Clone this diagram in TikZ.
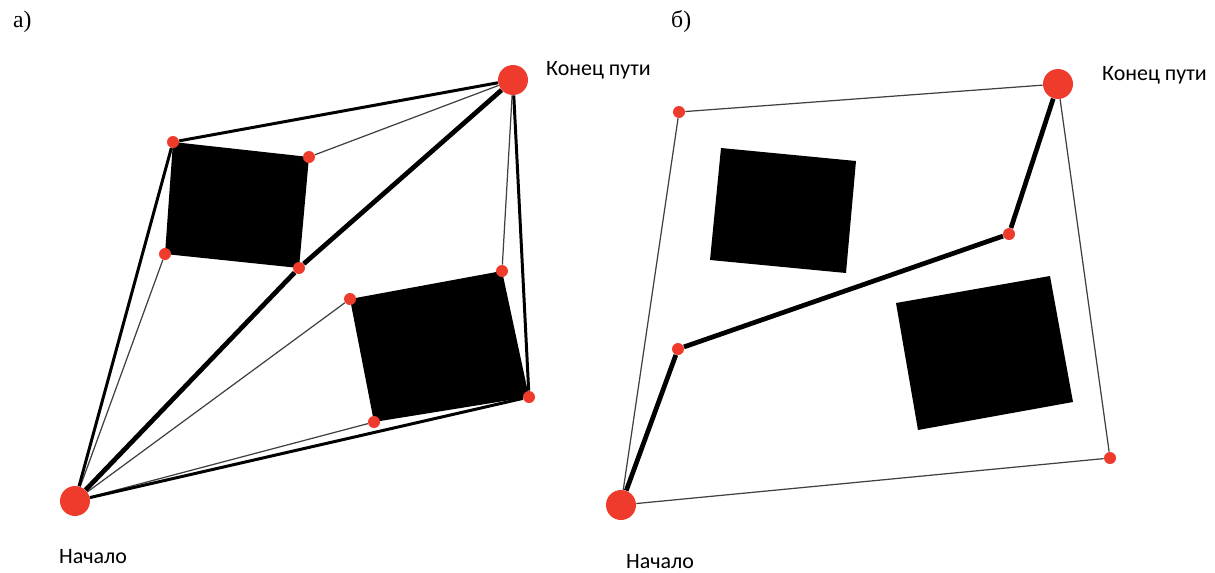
\documentclass[tikz,border=0pt]{standalone}
\usepackage{fontspec}
\setmainfont{Liberation Serif}
\newfontfamily\calibrifont{Carlito}
\definecolor{dotred}{HTML}{EE3B2C}
\definecolor{edgegray}{HTML}{404040}
\usetikzlibrary{backgrounds}

\begin{document}
\begin{tikzpicture}[
    x=0.02cm, y=-0.02cm,
    % Node styles
    way dot/.style={
        circle,
        fill=dotred,
        minimum size=0.24cm,
        inner sep=0pt
    },
    end dot/.style={
        circle,
        fill=dotred,
        minimum size=0.6cm,
        inner sep=0pt
    },
    obstacle/.style={
        fill=black
    },
    thin edge/.style={
        draw=edgegray,
        line width=0.7pt
    },
    side edge/.style={
        draw=black,
        line width=1.7pt
    },
    path edge/.style={
        draw=black,
        line width=2.7pt,
        line join=round
    },
    place label/.style={
        font=\calibrifont\fontsize{12.5}{14}\selectfont,
        anchor=base west
    },
    panel label/.style={
        font=\fontsize{13.5}{16}\selectfont,
        anchor=base west
    }
]

\useasboundingbox (0,0) rectangle (1215,572);

% ---------- a) visibility graph ----------
\node[end dot] (S) at (75,501) {};
\node[end dot] (E) at (513,80) {};

% Upper obstacle corners
\node[way dot] (A-1) at (173,142) {};
\node[way dot] (A-2) at (309,157) {};
\node[way dot] (A-3) at (299,268) {};
\node[way dot] (A-4) at (165,254) {};

% Lower obstacle corners
\node[way dot] (B-1) at (350,299) {};
\node[way dot] (B-2) at (502,271) {};
\node[way dot] (B-3) at (529,397) {};
\node[way dot] (B-4) at (374,422) {};

\begin{scope}[on background layer]
    \fill[obstacle] (A-1.center) -- (A-2.center) -- (A-3.center) -- (A-4.center) -- cycle;
    \fill[obstacle] (B-1.center) -- (B-2.center) -- (B-3.center) -- (B-4.center) -- cycle;
\end{scope}

% Thin edges
\foreach \a/\b in {S/A-4, S/B-1, S/B-4, A-2/E, B-2/E} {
    \draw[thin edge] (\a) -- (\b);
}

% Outer edges
\foreach \a/\b in {S/A-1, A-1/E, S/B-3, B-3/E} {
    \draw[side edge] (\a) -- (\b);
}

% Shortest path
\draw[path edge] (S) -- (A-3) -- (E);

\node[panel label] (lab-a) at (7,27) {а)};
\node[place label] (end-a) at (540,75) {Конец пути};
\node[place label] (start-a) at (53,563) {Начало};

% ---------- б) reduced graph ----------
\node[end dot] (S2) at (621,505) {};
\node[end dot] (E2) at (1058,84) {};

\node[way dot] (P-1) at (679,112) {};
\node[way dot] (P-2) at (1110,458) {};
\node[way dot] (P-3) at (678,349) {};
\node[way dot] (P-4) at (1009,234) {};

% Obstacles
\fill[obstacle] (721,148) -- (856,161) -- (846,273) -- (710,260) -- cycle;
\fill[obstacle] (896,303) -- (1050,276) -- (1073,402) -- (918,430) -- cycle;

% Border edges
\foreach \a/\b in {S2/P-1, P-1/E2, E2/P-2, P-2/S2} {
    \draw[thin edge] (\a) -- (\b);
}

% Found path
\draw[path edge] (S2) -- (P-3) -- (P-4) -- (E2);

\node[panel label] (lab-b) at (665,27) {б)};
\node[place label] (end-b) at (1096,80) {Конец пути};
\node[place label] (start-b) at (620,568) {Начало};

\end{tikzpicture}
\end{document}
